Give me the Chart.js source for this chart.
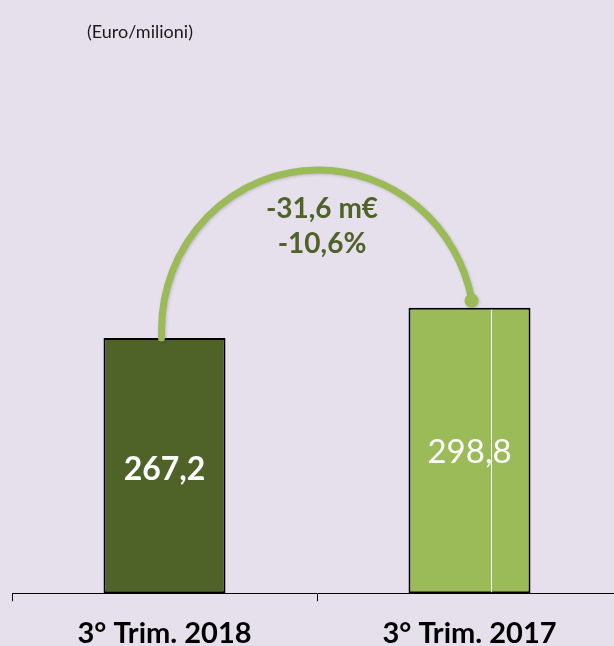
<!DOCTYPE html>
<html>
<head>
<meta charset="utf-8">
<script src="https://cdn.jsdelivr.net/npm/chart.js@4"></script>
<style>
  html, body { margin: 0; padding: 0; background: #e6e0ec; overflow: hidden; }
  #wrap { width: 630px; height: 646px; }
</style>
</head>
<body>
<div id="wrap"><canvas id="chart" width="630" height="646"></canvas></div>
<script>
const categories = ['3° Trim. 2018', '3° Trim. 2017'];
const values = [267.2, 298.8];
const valueLabels = ['267,2', '298,8'];
const deltaLabels = ['-31,6 m€', '-10,6%'];
const unitLabel = '(Euro/milioni)';

const darkGreen = '#4f6228';
const lightGreen = '#9bbb59';

// labels inside the bars, the unit caption and the change arc
const overlayPlugin = {
    id: 'overlay',
    afterDatasetsDraw(chart) {
        const ctx = chart.ctx;
        const meta = chart.getDatasetMeta(0);
        const b0 = meta.data[0];
        const b1 = meta.data[1];
        const yScale = chart.scales.y;

        ctx.save();

        // odd white line inside the second bar
        ctx.strokeStyle = '#ffffff';
        ctx.lineWidth = 1;
        ctx.beginPath();
        ctx.moveTo(Math.round(b1.x + 21) + 0.5, b1.y + 2);
        ctx.lineTo(Math.round(b1.x + 21) + 0.5, b1.base - 1);
        ctx.stroke();

        // values inside bars
        ctx.fillStyle = '#ffffff';
        ctx.textAlign = 'center';
        ctx.textBaseline = 'middle';
        ctx.font = 'bold 32px Lato';
        ctx.fillText(valueLabels[0], b0.x, (b0.y + b0.base) / 2 + 4);
        ctx.font = '33px Lato';
        ctx.fillText(valueLabels[1], b1.x, (b1.y + b1.base) / 2 + 2);

        // arc from first bar to second bar
        const x0 = b0.x - 3;
        const x1 = b1.x + 5;
        const cx = (x0 + x1) / 2;
        const rx = (x1 - x0) / 2;
        const topY = yScale.getPixelForValue(443);
        const cy = b0.y - 8;
        const ry = cy - topY;
        const endY = b1.y - 9;
        const endAngle = 2 * Math.PI - Math.asin((cy - endY) / ry);

        ctx.shadowColor = 'rgba(0,0,0,0.18)';
        ctx.shadowBlur = 3;
        ctx.shadowOffsetX = 1;
        ctx.shadowOffsetY = 1;
        ctx.strokeStyle = lightGreen;
        ctx.lineWidth = 7;
        ctx.lineCap = 'round';
        ctx.beginPath();
        ctx.moveTo(x0, b0.y);
        ctx.lineTo(x0, cy);
        ctx.ellipse(cx, cy, rx, ry, 0, Math.PI, endAngle);
        ctx.stroke();

        const ex = cx + rx * Math.cos(endAngle);
        const ey = cy + ry * Math.sin(endAngle);
        ctx.fillStyle = lightGreen;
        ctx.beginPath();
        ctx.arc(ex, ey + 2, 7, 0, 2 * Math.PI);
        ctx.fill();

        ctx.shadowColor = 'transparent';
        ctx.fillStyle = darkGreen;
        ctx.font = 'bold 28px Lato';
        ctx.fillText(deltaLabels[0], cx + 4, topY + 39);
        ctx.fillText(deltaLabels[1], cx + 4, topY + 74);

        // unit caption
        ctx.fillStyle = '#1a1a1a';
        ctx.font = '18px Lato';
        ctx.textAlign = 'left';
        ctx.fillText(unitLabel, 87, 32);

        ctx.restore();
    }
};

new Chart(document.getElementById('chart'), {
    type: 'bar',
    data: {
        labels: categories,
        datasets: [{
            data: values,
            backgroundColor: [darkGreen, lightGreen],
            borderColor: '#000000',
            borderWidth: 2,
            borderSkipped: false,
            categoryPercentage: 1,
            barPercentage: 0.4
        }]
    },
    options: {
        responsive: false,
        animation: false,
        layout: {
            padding: { top: 20, left: 12, right: 8, bottom: -20 }
        },
        scales: {
            x: {
                offset: true,
                grid: {
                    offset: true,
                    drawOnChartArea: false,
                    drawTicks: true,
                    tickLength: 8,
                    color: '#000000'
                },
                border: { display: true, color: '#000000', width: 1 },
                ticks: {
                    color: '#000000',
                    padding: 15,
                    font: { family: 'Lato', size: 29, weight: 'bold' }
                }
            },
            y: {
                display: false,
                min: 0,
                max: 600
            }
        },
        plugins: {
            legend: { display: false },
            tooltip: { enabled: false }
        }
    },
    plugins: [overlayPlugin]
});
</script>
</body>
</html>
